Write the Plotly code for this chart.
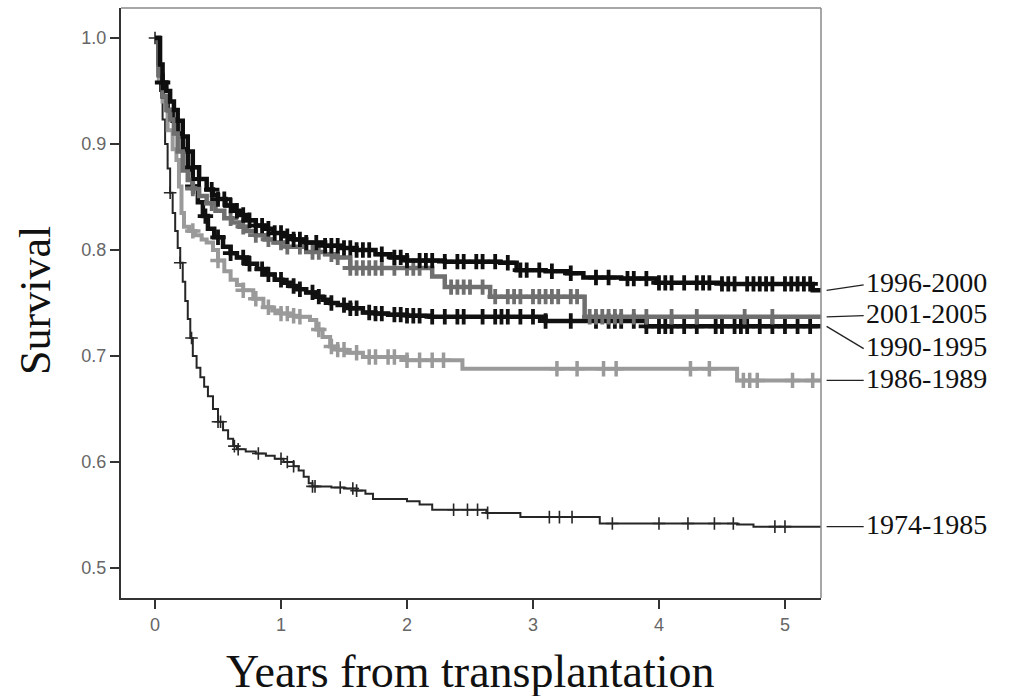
import numpy as np
import plotly.graph_objects as go

# ---- data ----
periods = ["1996-2000", "2001-2005", "1990-1995", "1986-1989", "1974-1985"]

t_1996 = [0, 0.04, 0.06, 0.09, 0.12, 0.15, 0.18, 0.22, 0.26, 0.3, 0.35, 0.41, 0.46, 0.5, 0.56, 0.62, 0.67, 0.73, 0.8, 0.87,
          0.94, 1.02, 1.1, 1.2, 1.35, 1.47, 1.6, 1.75, 1.87, 2.0, 2.3, 2.74, 2.87, 3.1, 3.27, 3.4, 3.7, 3.98, 4.5, 5.22, 5.3]
s_1996 = [1.0, 0.975, 0.958, 0.95, 0.94, 0.932, 0.922, 0.907, 0.893, 0.878, 0.867, 0.857, 0.852, 0.848, 0.842, 0.837, 0.833,
          0.828, 0.823, 0.82, 0.816, 0.813, 0.81, 0.807, 0.804, 0.802, 0.8, 0.796, 0.793, 0.79, 0.789, 0.788, 0.781, 0.78,
          0.778, 0.774, 0.773, 0.769, 0.768, 0.762, 0.762]
c_1996 = [0.06, 0.3, 0.35, 0.45, 0.5, 0.55, 0.6, 0.65, 0.7, 0.75, 0.8, 0.85, 0.9, 0.95, 1.0, 1.05, 1.1, 1.15, 1.2, 1.28, 1.35, 1.4,
          1.45, 1.5, 1.55, 1.6, 1.65, 1.7, 1.8, 1.9, 1.95, 2.0, 2.1, 2.15, 2.2, 2.3, 2.4, 2.45, 2.55, 2.6, 2.7, 2.8, 2.9, 2.95,
          3.05, 3.15, 3.3, 3.5, 3.6, 3.75, 3.8, 3.9, 4.0, 4.05, 4.1, 4.2, 4.3, 4.35, 4.4, 4.5, 4.55, 4.6, 4.7, 4.75, 4.8,
          4.85, 4.9, 5.0, 5.05, 5.1, 5.15, 5.2]

t_2001 = [0, 0.03, 0.06, 0.09, 0.12, 0.15, 0.18, 0.22, 0.26, 0.3, 0.35, 0.41, 0.48, 0.55, 0.61, 0.67, 0.73, 0.8, 0.87, 0.94,
          1.05, 1.2, 1.35, 1.45, 1.55, 2.2, 2.3, 2.66, 3.41, 5.3]
s_2001 = [1.0, 0.965, 0.945, 0.932, 0.923, 0.91, 0.893, 0.875, 0.866, 0.858, 0.851, 0.844, 0.837, 0.83, 0.826, 0.822, 0.818,
          0.814, 0.81, 0.807, 0.803, 0.798, 0.796, 0.793, 0.783, 0.775, 0.765, 0.756, 0.737, 0.737]
c_2001 = [0.3, 0.45, 0.6, 0.7, 0.8, 0.9, 1.0, 1.05, 1.15, 1.25, 1.3, 1.4, 1.45, 1.55, 1.6, 1.65, 1.7, 1.75, 1.8, 1.9, 2.0,
          2.05, 2.1, 2.35, 2.4, 2.45, 2.5, 2.6, 2.7, 2.8, 2.85, 2.9, 3.0, 3.05, 3.1, 3.15, 3.2, 3.3, 3.35, 3.45, 3.5, 3.55,
          3.6, 3.65, 3.7, 3.8, 3.9, 4.1, 4.3, 4.68, 4.9]

t_1990 = [0, 0.03, 0.06, 0.1, 0.14, 0.18, 0.22, 0.26, 0.3, 0.34, 0.38, 0.42, 0.47, 0.54, 0.6, 0.65, 0.73, 0.81, 0.88, 0.95,
          1.01, 1.07, 1.13, 1.2, 1.27, 1.33, 1.39, 1.45, 1.55, 1.65, 1.75, 1.85, 2.0, 2.18, 3.1, 3.9, 5.3]
s_1990 = [1.0, 0.965, 0.945, 0.932, 0.922, 0.91, 0.895, 0.876, 0.86, 0.845, 0.832, 0.82, 0.812, 0.803, 0.797, 0.793, 0.787,
          0.782, 0.777, 0.772, 0.769, 0.766, 0.763, 0.76, 0.756, 0.753, 0.75, 0.748, 0.745, 0.741, 0.74, 0.739, 0.738,
          0.737, 0.733, 0.728, 0.728]
c_1990 = [0.3, 0.4, 0.5, 0.6, 0.7, 0.75, 0.85, 0.9, 1.0, 1.1, 1.15, 1.25, 1.3, 1.4, 1.5, 1.55, 1.6, 1.7, 1.75, 1.8, 1.9,
          1.95, 2.0, 2.05, 2.1, 2.2, 2.3, 2.4, 2.45, 2.6, 2.7, 2.75, 2.8, 2.9, 3.0, 3.1, 3.3, 3.5, 3.6, 3.65, 3.7, 3.8,
          3.9, 4.0, 4.05, 4.1, 4.2, 4.3, 4.45, 4.5, 4.6, 4.65, 4.7, 4.8, 4.9, 5.0, 5.1, 5.2]

t_1986 = [0, 0.03, 0.06, 0.1, 0.14, 0.17, 0.19, 0.21, 0.23, 0.27, 0.32, 0.37, 0.41, 0.46, 0.5, 0.55, 0.6, 0.65, 0.7, 0.78,
          0.86, 0.93, 1.0, 1.07, 1.13, 1.23, 1.28, 1.33, 1.39, 1.45, 1.52, 1.65, 2.0, 2.44, 4.62, 5.3]
s_1986 = [1.0, 0.96, 0.94, 0.913, 0.895, 0.885, 0.86, 0.835, 0.822, 0.818, 0.814, 0.81, 0.807, 0.8, 0.79, 0.78, 0.772,
          0.767, 0.762, 0.754, 0.746, 0.743, 0.74, 0.738, 0.737, 0.734, 0.725, 0.718, 0.709, 0.706, 0.703, 0.699, 0.696,
          0.688, 0.677, 0.677]
c_1986 = [0.3, 0.5, 0.7, 0.8, 0.9, 1.0, 1.05, 1.1, 1.15, 1.3, 1.4, 1.45, 1.5, 1.6, 1.7, 1.75, 1.85, 1.9, 2.0, 2.1, 2.2,
          2.29, 3.19, 3.35, 3.56, 3.66, 4.25, 4.4, 4.67, 4.72, 4.78, 5.06, 5.22]

t_1974 = [0, 0.02, 0.04, 0.06, 0.08, 0.1, 0.12, 0.14, 0.16, 0.18, 0.2, 0.22, 0.24, 0.26, 0.28, 0.3, 0.33, 0.36, 0.39, 0.42,
          0.46, 0.5, 0.54, 0.58, 0.62, 0.65, 0.72, 0.8, 0.88, 0.95, 1.02, 1.1, 1.14, 1.18, 1.22, 1.25, 1.4, 1.5, 1.6, 1.67,
          1.73, 2.0, 2.1, 2.2, 2.63, 2.9, 3.53, 4.62, 4.75, 5.3]
s_1974 = [1.0, 0.975, 0.95, 0.923, 0.9, 0.877, 0.854, 0.835, 0.818, 0.802, 0.788, 0.77, 0.752, 0.735, 0.717, 0.70, 0.689,
          0.68, 0.671, 0.662, 0.65, 0.638, 0.63, 0.622, 0.615, 0.612, 0.61, 0.608, 0.606, 0.603, 0.6, 0.596, 0.592, 0.586,
          0.58, 0.577, 0.576, 0.575, 0.573, 0.57, 0.565, 0.563, 0.56, 0.555, 0.552, 0.548, 0.542, 0.541, 0.539, 0.539]
c_1974 = [0.0, 0.12, 0.2, 0.29, 0.5, 0.52, 0.63, 0.66, 0.82, 1.0, 1.05, 1.1, 1.25, 1.27, 1.47, 1.57, 1.6, 2.37, 2.48,
          2.56, 2.64, 3.13, 3.21, 3.31, 3.63, 4.0, 4.23, 4.44, 4.59, 4.92, 5.0]

label_y = [0.769, 0.740, 0.709, 0.679, 0.541]

x_ticks = [0, 1, 2, 3, 4, 5]
y_ticks = [0.5, 0.6, 0.7, 0.8, 0.9, 1.0]

# ---- styles ----
series = {
    "1974-1985": (t_1974, s_1974, c_1974, "#262626", 2.0, 9, 1.6),
    "1986-1989": (t_1986, s_1986, c_1986, "#9a9a9a", 4.0, 11, 3.5),
    "1990-1995": (t_1990, s_1990, c_1990, "#111111", 4.5, 11, 3.8),
    "2001-2005": (t_2001, s_2001, c_2001, "#6f6f6f", 4.5, 11, 3.8),
    "1996-2000": (t_1996, s_1996, c_1996, "#0e0e0e", 4.5, 11, 3.8),
}


def step_value(t, s, x):
    t = np.asarray(t)
    s = np.asarray(s)
    idx = np.searchsorted(t, np.asarray(x), side="right") - 1
    return s[np.clip(idx, 0, len(s) - 1)]


fig = go.Figure()
for name, (t, s, c, col, lw, msz, mlw) in series.items():
    fig.add_trace(go.Scatter(x=t, y=s, mode="lines", line=dict(color=col, width=lw, shape="hv"),
                             name=name, showlegend=False, hoverinfo="skip"))
    fig.add_trace(go.Scatter(x=c, y=step_value(t, s, c), mode="markers",
                             marker=dict(symbol="cross-thin", size=msz, line=dict(color=col, width=mlw)),
                             name=name, showlegend=False, hoverinfo="skip"))

L, R, T, B = 121, 195, 8, 98
x_range = [-0.27, 5.286]
y_range = [0.4717, 1.0283]

shapes = [
    dict(type="line", xref="paper", yref="paper", x0=0, x1=1, y0=1, y1=1, line=dict(color="#8a8a8a", width=1.5)),
    dict(type="line", xref="paper", yref="paper", x0=1, x1=1, y0=0, y1=1, line=dict(color="#8a8a8a", width=1.5)),
]
annotations = []
for i, name in enumerate(periods):
    t, s = series[name][0], series[name][1]
    shapes.append(dict(type="line", xref="paper", yref="y", x0=1.008, x1=1.061,
                       y0=s[-1], y1=label_y[i] - 0.002, line=dict(color="#222", width=1.3)))
    annotations.append(dict(text=name, xref="paper", yref="y", x=1.062, y=label_y[i],
                            xanchor="left", yanchor="middle", showarrow=False,
                            font=dict(family="Liberation Serif", size=28, color="#111")))

annotations.append(dict(text="Years from transplantation", xref="paper", yref="paper",
                        x=0.499, y=-0.125, xanchor="center", yanchor="middle", showarrow=False,
                        font=dict(family="Liberation Serif", size=46, color="#111")))
annotations.append(dict(text="Survival", xref="paper", yref="paper", textangle=-90,
                        x=-0.123, y=0.505, xanchor="center", yanchor="middle", showarrow=False,
                        font=dict(family="Liberation Serif", size=44, color="#111")))

fig.update_layout(
    width=1016, height=696,
    margin=dict(l=L, r=R, t=T, b=B),
    paper_bgcolor="white", plot_bgcolor="white",
    shapes=shapes, annotations=annotations,
    xaxis=dict(range=x_range, tickvals=x_ticks, ticks="outside", ticklen=9, tickwidth=2,
               tickcolor="#333", showline=True, linecolor="#333", linewidth=2, showgrid=False,
               zeroline=False, tickfont=dict(family="Liberation Sans", size=18, color="#666")),
    yaxis=dict(range=y_range, tickvals=y_ticks, tickformat=".1f", ticks="outside", ticklen=9,
               tickwidth=2, tickcolor="#333", showline=True, linecolor="#333", linewidth=2,
               showgrid=False, zeroline=False,
               tickfont=dict(family="Liberation Sans", size=18, color="#666")),
)

fig.write_html("out.html")
